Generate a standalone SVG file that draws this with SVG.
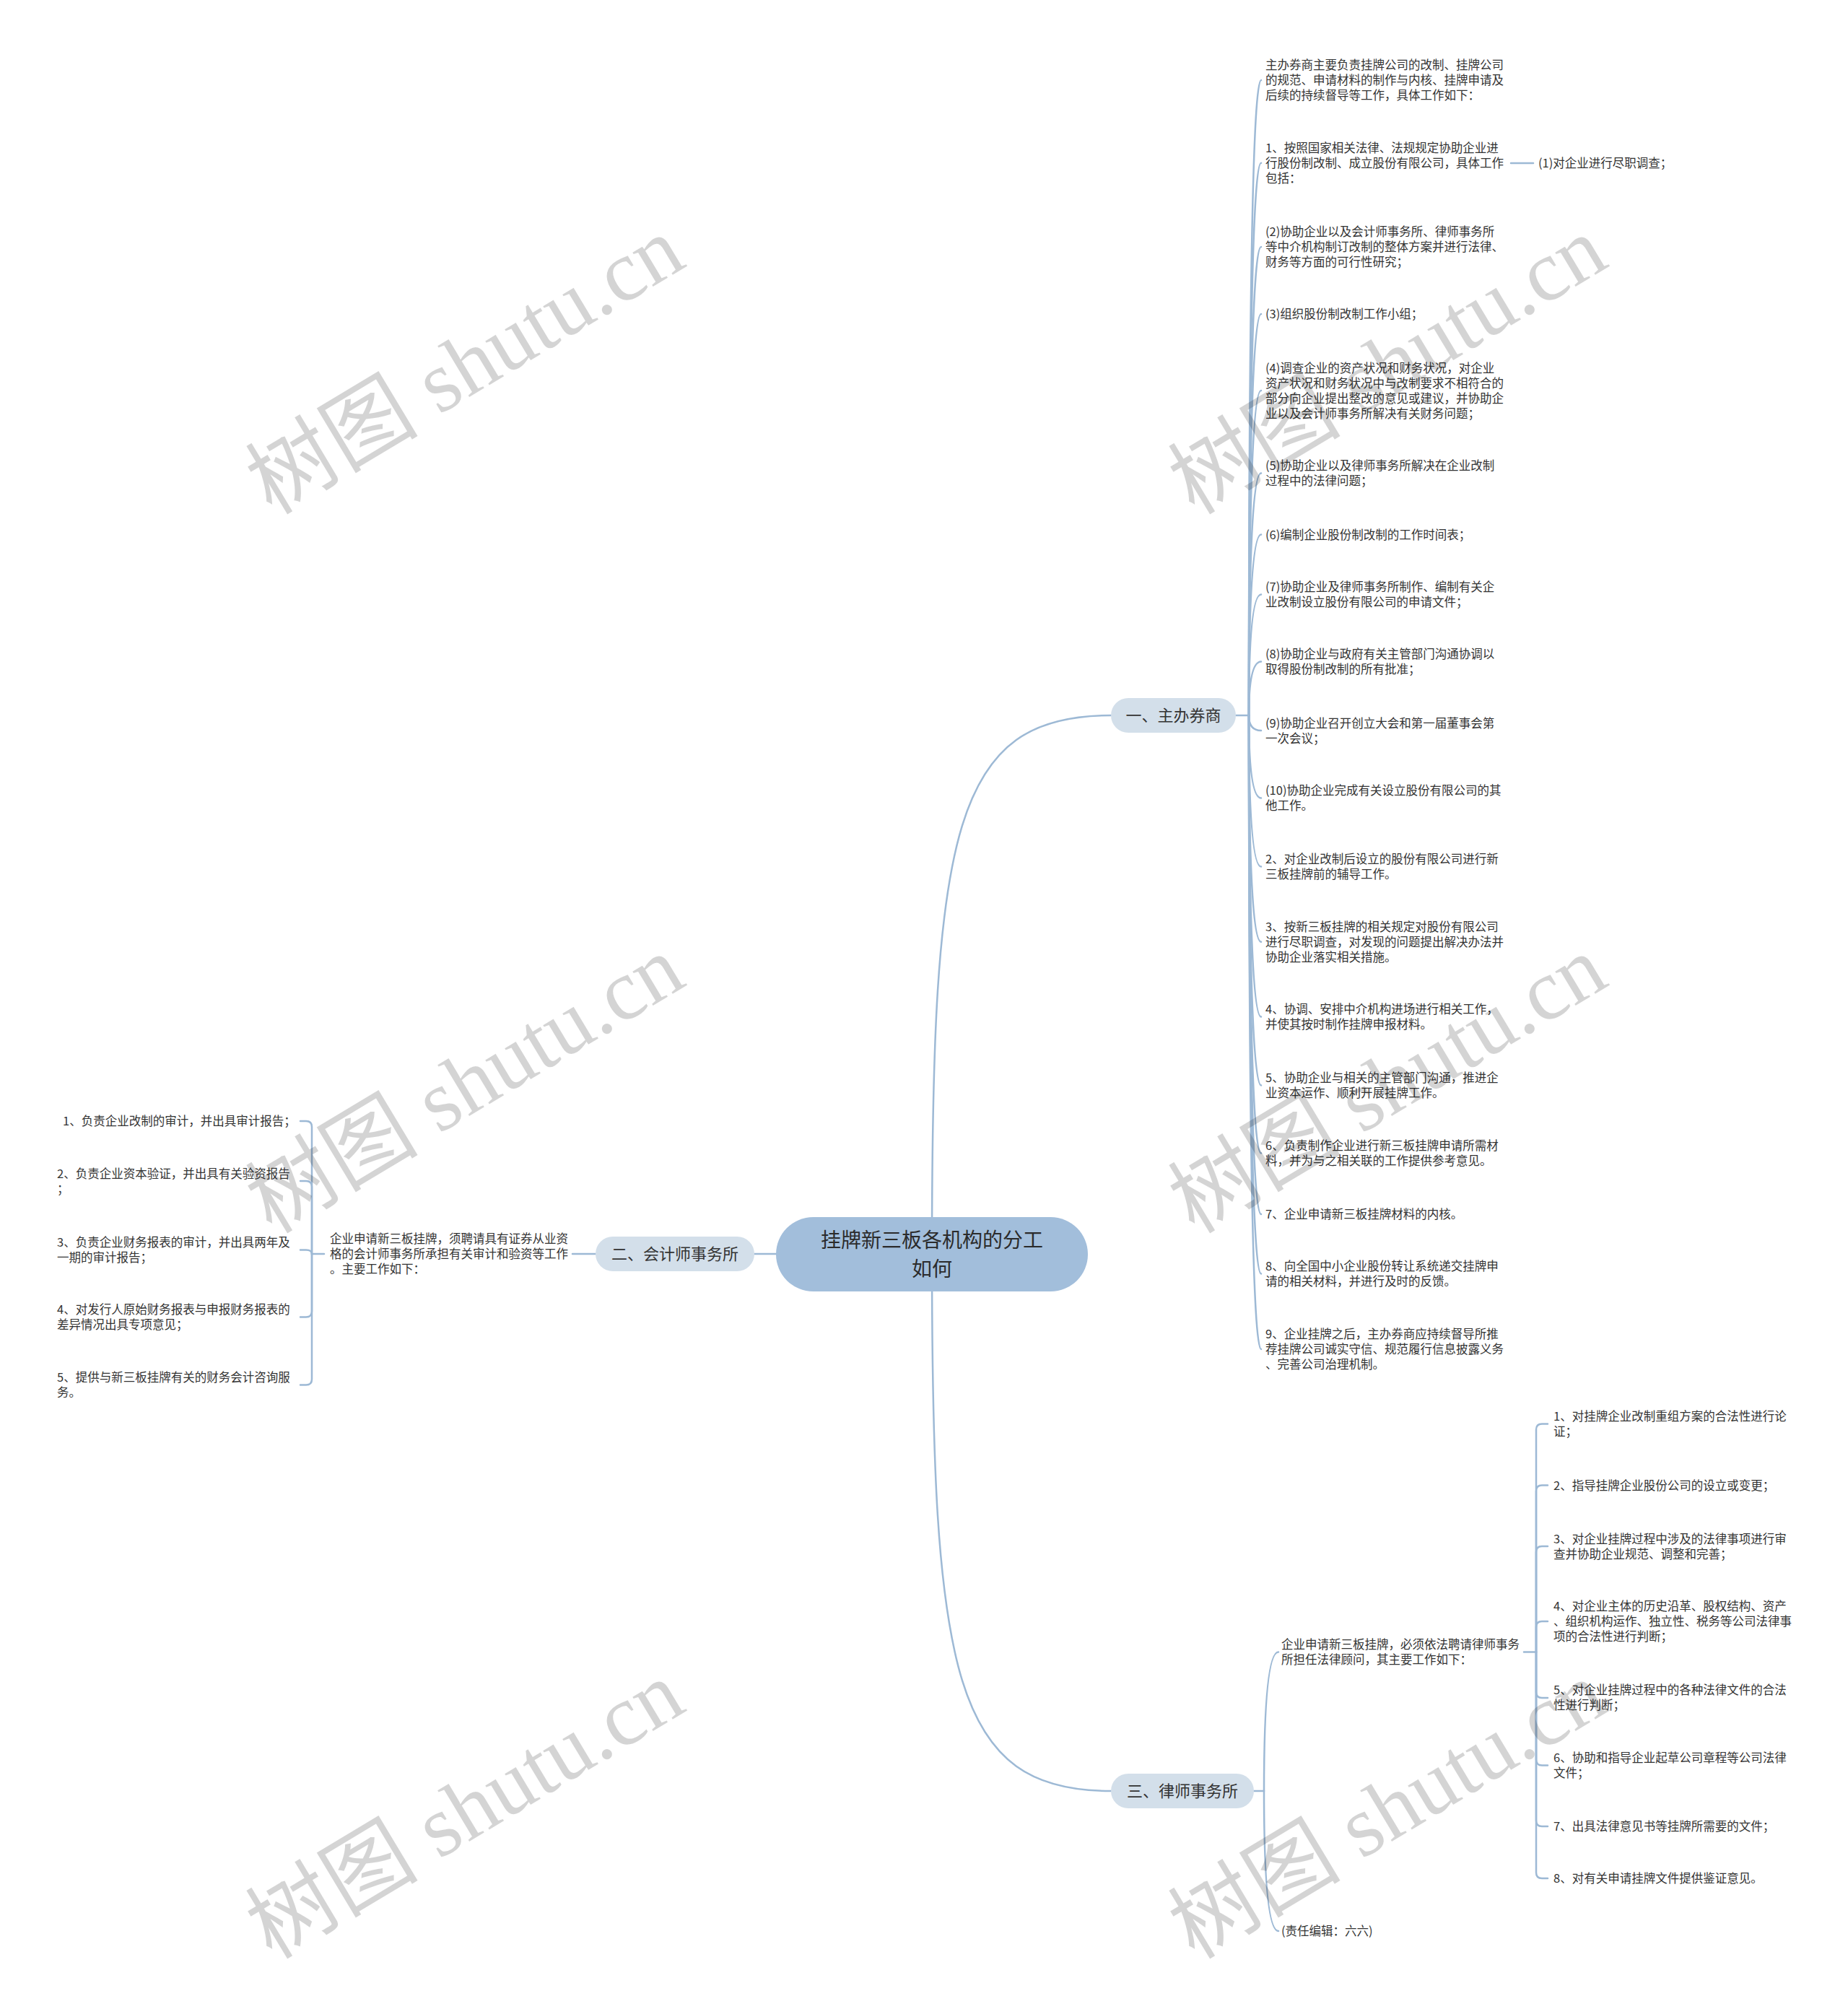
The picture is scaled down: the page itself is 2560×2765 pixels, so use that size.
<svg xmlns="http://www.w3.org/2000/svg" width="2560" height="2765" viewBox="0 0 2560 2765">
<style>
.t{font-family:"Noto Sans CJK SC","Liberation Sans",sans-serif;font-size:16.5px;fill:#333}
.rt{font-family:"Noto Sans CJK SC","Liberation Sans",sans-serif;font-size:28px;fill:#2b2b2b;text-anchor:middle}
.bt{font-family:"Noto Sans CJK SC","Liberation Sans",sans-serif;font-size:22px;fill:#333;text-anchor:middle}
.ln{fill:none;stroke:#9db9d5;stroke-width:2.5;stroke-linecap:round}
.root{fill:#a2bedb}
.br{fill:#d3dfea}
.wm{font-family:"Liberation Serif","Noto Sans CJK SC",serif;font-size:120px;fill:#000;fill-opacity:0.17;text-anchor:middle}
</style>
<rect width="2560" height="2765" fill="#fff"/>
<g id="connectors">
<path class="ln" d="M1291 1737 C1291 1150 1320 991 1539 991"/>
<path class="ln" d="M1291 1737 C1291 2320 1320 2481 1539 2481"/>
<path class="ln" d="M1045 1737 H1080"/>
<path class="ln" d="M1712 991 H1730"/>
<path class="ln" d="M1730 991 Q1730 111 1747 111"/>
<path class="ln" d="M1730 991 Q1730 225.7 1747 225.7"/>
<path class="ln" d="M1730 991 Q1730 342 1747 342"/>
<path class="ln" d="M1730 991 Q1730 435 1747 435"/>
<path class="ln" d="M1730 991 Q1730 541 1747 541"/>
<path class="ln" d="M1730 991 Q1730 655.5 1747 655.5"/>
<path class="ln" d="M1730 991 Q1730 740.5 1747 740.5"/>
<path class="ln" d="M1730 991 Q1730 823.5 1747 823.5"/>
<path class="ln" d="M1730 991 Q1730 916.5 1747 916.5"/>
<path class="ln" d="M1730 991 Q1730 1012 1747 1012"/>
<path class="ln" d="M1730 991 Q1730 1105.5 1747 1105.5"/>
<path class="ln" d="M1730 991 Q1730 1200.5 1747 1200.5"/>
<path class="ln" d="M1730 991 Q1730 1304.7 1747 1304.7"/>
<path class="ln" d="M1730 991 Q1730 1408.5 1747 1408.5"/>
<path class="ln" d="M1730 991 Q1730 1503.5 1747 1503.5"/>
<path class="ln" d="M1730 991 Q1730 1597.5 1747 1597.5"/>
<path class="ln" d="M1730 991 Q1730 1682 1747 1682"/>
<path class="ln" d="M1730 991 Q1730 1764.5 1747 1764.5"/>
<path class="ln" d="M1730 991 Q1730 1869 1747 1869"/>
<path class="ln" d="M2093 226 H2124"/>
<path class="ln" d="M825 1737 H793"/>
<path class="ln" d="M449 1737 H432"/>
<path class="ln" d="M432 1737 V1561 Q432 1553 424 1553 H416"/>
<path class="ln" d="M432 1737 V1644 Q432 1636 424 1636 H416"/>
<path class="ln" d="M432 1737 Q432 1731.5 424 1731.5 H416"/>
<path class="ln" d="M432 1737 V1816.5 Q432 1824.5 424 1824.5 H416"/>
<path class="ln" d="M432 1737 V1910.5 Q432 1918.5 424 1918.5 H416"/>
<path class="ln" d="M1737 2481 H1751"/>
<path class="ln" d="M1751 2481 Q1751 2288.5 1771 2288.5"/>
<path class="ln" d="M1751 2481 Q1751 2675 1771 2675"/>
<path class="ln" d="M2111 2288.5 H2128"/>
<path class="ln" d="M2128 2288.5 V1980.5 Q2128 1972.5 2136 1972.5 H2144"/>
<path class="ln" d="M2128 2288.5 V2065.5 Q2128 2057.5 2136 2057.5 H2144"/>
<path class="ln" d="M2128 2288.5 V2150 Q2128 2142 2136 2142 H2144"/>
<path class="ln" d="M2128 2288.5 V2254 Q2128 2246 2136 2246 H2144"/>
<path class="ln" d="M2128 2288.5 V2344 Q2128 2352 2136 2352 H2144"/>
<path class="ln" d="M2128 2288.5 V2437.5 Q2128 2445.5 2136 2445.5 H2144"/>
<path class="ln" d="M2128 2288.5 V2522 Q2128 2530 2136 2530 H2144"/>
<path class="ln" d="M2128 2288.5 V2594 Q2128 2602 2136 2602 H2144"/>
</g>
<g id="root">
<rect class="root" x="1075" y="1686" width="432" height="103" rx="51.5"/>
<text class="rt"><tspan x="1291" y="1728">挂牌新三板各机构的分工</tspan><tspan x="1291" y="1768">如何</tspan></text>
</g>
<g id="b1">
<rect class="br" x="1539" y="967" width="173" height="48" rx="24"/>
<text class="bt" x="1625.5" y="999">一、主办券商</text>
</g>
<g id="b2">
<rect class="br" x="825" y="1713" width="220" height="48" rx="24"/>
<text class="bt" x="935" y="1745">二、会计师事务所</text>
</g>
<g id="b3">
<rect class="br" x="1539" y="2457" width="198" height="48" rx="24"/>
<text class="bt" x="1638" y="2489">三、律师事务所</text>
</g>
<g id="b1-children">
<g id="n1-1"><text class="t"><tspan x="1753" y="96">主办券商主要负责挂牌公司的改制、挂牌公司</tspan><tspan x="1753" y="117">的规范、申请材料的制作与内核、挂牌申请及</tspan><tspan x="1753" y="138">后续的持续督导等工作，具体工作如下：</tspan></text></g>
<g id="n1-2"><text class="t"><tspan x="1753" y="211">1、按照国家相关法律、法规规定协助企业进</tspan><tspan x="1753" y="232">行股份制改制、成立股份有限公司，具体工作</tspan><tspan x="1753" y="253">包括：</tspan></text></g>
<g id="n1-2-1"><text class="t" x="2131" y="232">(1)对企业进行尽职调查；</text></g>
<g id="n1-3"><text class="t"><tspan x="1753" y="327">(2)协助企业以及会计师事务所、律师事务所</tspan><tspan x="1753" y="348">等中介机构制订改制的整体方案并进行法律、</tspan><tspan x="1753" y="369">财务等方面的可行性研究；</tspan></text></g>
<g id="n1-4"><text class="t" x="1753" y="441">(3)组织股份制改制工作小组；</text></g>
<g id="n1-5"><text class="t"><tspan x="1753" y="516">(4)调查企业的资产状况和财务状况，对企业</tspan><tspan x="1753" y="537">资产状况和财务状况中与改制要求不相符合的</tspan><tspan x="1753" y="558">部分向企业提出整改的意见或建议，并协助企</tspan><tspan x="1753" y="579">业以及会计师事务所解决有关财务问题；</tspan></text></g>
<g id="n1-6"><text class="t"><tspan x="1753" y="651">(5)协助企业以及律师事务所解决在企业改制</tspan><tspan x="1753" y="672">过程中的法律问题；</tspan></text></g>
<g id="n1-7"><text class="t" x="1753" y="747">(6)编制企业股份制改制的工作时间表；</text></g>
<g id="n1-8"><text class="t"><tspan x="1753" y="819">(7)协助企业及律师事务所制作、编制有关企</tspan><tspan x="1753" y="840">业改制设立股份有限公司的申请文件；</tspan></text></g>
<g id="n1-9"><text class="t"><tspan x="1753" y="912">(8)协助企业与政府有关主管部门沟通协调以</tspan><tspan x="1753" y="933">取得股份制改制的所有批准；</tspan></text></g>
<g id="n1-10"><text class="t"><tspan x="1753" y="1008">(9)协助企业召开创立大会和第一届董事会第</tspan><tspan x="1753" y="1029">一次会议；</tspan></text></g>
<g id="n1-11"><text class="t"><tspan x="1753" y="1101">(10)协助企业完成有关设立股份有限公司的其</tspan><tspan x="1753" y="1122">他工作。</tspan></text></g>
<g id="n1-12"><text class="t"><tspan x="1753" y="1196">2、对企业改制后设立的股份有限公司进行新</tspan><tspan x="1753" y="1217">三板挂牌前的辅导工作。</tspan></text></g>
<g id="n1-13"><text class="t"><tspan x="1753" y="1290">3、按新三板挂牌的相关规定对股份有限公司</tspan><tspan x="1753" y="1311">进行尽职调查，对发现的问题提出解决办法并</tspan><tspan x="1753" y="1332">协助企业落实相关措施。</tspan></text></g>
<g id="n1-14"><text class="t"><tspan x="1753" y="1404">4、协调、安排中介机构进场进行相关工作，</tspan><tspan x="1753" y="1425">并使其按时制作挂牌申报材料。</tspan></text></g>
<g id="n1-15"><text class="t"><tspan x="1753" y="1499">5、协助企业与相关的主管部门沟通，推进企</tspan><tspan x="1753" y="1520">业资本运作、顺利开展挂牌工作。</tspan></text></g>
<g id="n1-16"><text class="t"><tspan x="1753" y="1593">6、负责制作企业进行新三板挂牌申请所需材</tspan><tspan x="1753" y="1614">料，并为与之相关联的工作提供参考意见。</tspan></text></g>
<g id="n1-17"><text class="t" x="1753" y="1688">7、企业申请新三板挂牌材料的内核。</text></g>
<g id="n1-18"><text class="t"><tspan x="1753" y="1760">8、向全国中小企业股份转让系统递交挂牌申</tspan><tspan x="1753" y="1781">请的相关材料，并进行及时的反馈。</tspan></text></g>
<g id="n1-19"><text class="t"><tspan x="1753" y="1854">9、企业挂牌之后，主办券商应持续督导所推</tspan><tspan x="1753" y="1875">荐挂牌公司诚实守信、规范履行信息披露义务</tspan><tspan x="1753" y="1896">、完善公司治理机制。</tspan></text></g>
</g>
<g id="b2-children">
<g id="n2-0"><text class="t"><tspan x="457" y="1722">企业申请新三板挂牌，须聘请具有证券从业资</tspan><tspan x="457" y="1743">格的会计师事务所承担有关审计和验资等工作</tspan><tspan x="457" y="1764">。主要工作如下：</tspan></text></g>
<g id="n2-1"><text class="t" x="87" y="1559">1、负责企业改制的审计，并出具审计报告；</text></g>
<g id="n2-2"><text class="t"><tspan x="79" y="1632">2、负责企业资本验证，并出具有关验资报告</tspan><tspan x="79" y="1653">；</tspan></text></g>
<g id="n2-3"><text class="t"><tspan x="79" y="1727">3、负责企业财务报表的审计，并出具两年及</tspan><tspan x="79" y="1748">一期的审计报告；</tspan></text></g>
<g id="n2-4"><text class="t"><tspan x="79" y="1820">4、对发行人原始财务报表与申报财务报表的</tspan><tspan x="79" y="1841">差异情况出具专项意见；</tspan></text></g>
<g id="n2-5"><text class="t"><tspan x="79" y="1914">5、提供与新三板挂牌有关的财务会计咨询服</tspan><tspan x="79" y="1935">务。</tspan></text></g>
</g>
<g id="b3-children">
<g id="n3-0"><text class="t"><tspan x="1775" y="2284">企业申请新三板挂牌，必须依法聘请律师事务</tspan><tspan x="1775" y="2305">所担任法律顾问，其主要工作如下：</tspan></text></g>
<g id="n3-e"><text class="t" x="1775" y="2681">(责任编辑：六六)</text></g>
<g id="n3-1"><text class="t"><tspan x="2152" y="1968">1、对挂牌企业改制重组方案的合法性进行论</tspan><tspan x="2152" y="1989">证；</tspan></text></g>
<g id="n3-2"><text class="t" x="2152" y="2064">2、指导挂牌企业股份公司的设立或变更；</text></g>
<g id="n3-3"><text class="t"><tspan x="2152" y="2138">3、对企业挂牌过程中涉及的法律事项进行审</tspan><tspan x="2152" y="2159">查并协助企业规范、调整和完善；</tspan></text></g>
<g id="n3-4"><text class="t"><tspan x="2152" y="2231">4、对企业主体的历史沿革、股权结构、资产</tspan><tspan x="2152" y="2252">、组织机构运作、独立性、税务等公司法律事</tspan><tspan x="2152" y="2273">项的合法性进行判断；</tspan></text></g>
<g id="n3-5"><text class="t"><tspan x="2152" y="2347">5、对企业挂牌过程中的各种法律文件的合法</tspan><tspan x="2152" y="2368">性进行判断；</tspan></text></g>
<g id="n3-6"><text class="t"><tspan x="2152" y="2441">6、协助和指导企业起草公司章程等公司法律</tspan><tspan x="2152" y="2462">文件；</tspan></text></g>
<g id="n3-7"><text class="t" x="2152" y="2536">7、出具法律意见书等挂牌所需要的文件；</text></g>
<g id="n3-8"><text class="t" x="2152" y="2608">8、对有关申请挂牌文件提供鉴证意见。</text></g>
</g>
<g id="watermarks">
<text class="wm" transform="translate(665 541) rotate(-31)">树图 shutu.cn</text>
<text class="wm" transform="translate(1943 541) rotate(-31)">树图 shutu.cn</text>
<text class="wm" transform="translate(665 1537) rotate(-31)">树图 shutu.cn</text>
<text class="wm" transform="translate(1943 1537) rotate(-31)">树图 shutu.cn</text>
<text class="wm" transform="translate(665 2542) rotate(-31)">树图 shutu.cn</text>
<text class="wm" transform="translate(1943 2542) rotate(-31)">树图 shutu.cn</text>
</g>
</svg>
